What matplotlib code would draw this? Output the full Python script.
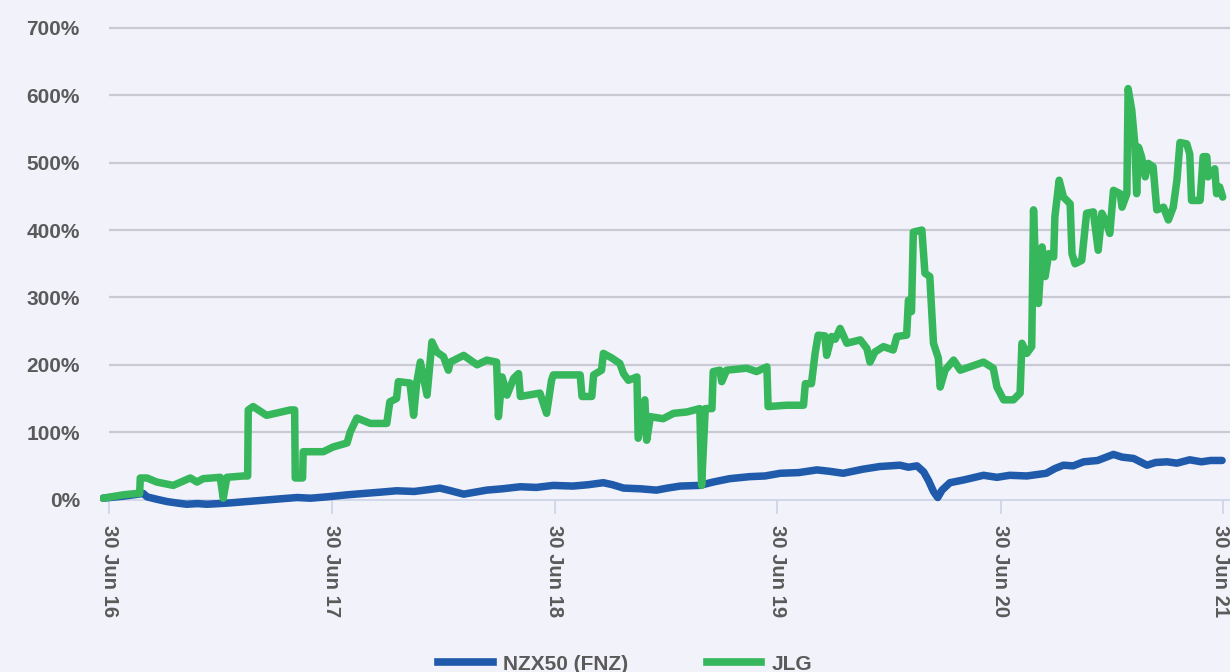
import matplotlib
matplotlib.use("Agg")
import matplotlib.pyplot as plt
import matplotlib.dates as mdates
import matplotlib.transforms as mtransforms
from matplotlib.lines import Line2D
from matplotlib.ticker import FuncFormatter
import pandas as pd

# ---------------- data ----------------
start_date = "2016-06-30"
tick_dates = ["2016-06-30", "2017-06-30", "2018-06-30", "2019-06-30", "2020-06-30", "2021-06-30"]
tick_labels = ["30 Jun 16", "30 Jun 17", "30 Jun 18", "30 Jun 19", "30 Jun 20", "30 Jun 21"]
y_ticks = [0, 100, 200, 300, 400, 500, 600, 700]
series_names = ["NZX50 (FNZ)", "JLG"]

# days since 30 Jun 2016, cumulative return in %
jlg_days = [-10, 23, 45, 50, 51, 62, 78, 105, 133, 144, 154, 182, 187, 193, 220, 227, 228, 236, 258,
            297, 304, 305, 313, 317, 318, 351, 367, 390, 395, 406, 428, 455, 460, 471, 474, 493,
            499, 504, 510, 521, 529, 537, 548, 556, 559, 581, 603, 619, 635, 638, 644, 652, 663,
            671, 674, 706, 717, 725, 728, 772, 775, 791, 794, 807, 810, 824, 837, 843, 851, 865,
            867, 878, 881, 887, 908, 925, 947, 968, 971, 977, 988, 990, 1001, 1004, 1012, 1045,
            1061, 1078, 1080, 1110, 1138, 1141, 1151, 1157, 1162, 1173, 1176, 1184, 1190, 1198,
            1209, 1231, 1242, 1247, 1255, 1269, 1285, 1291, 1307, 1310, 1315, 1318, 1332, 1337,
            1345, 1351, 1359, 1362, 1370, 1384, 1395, 1433, 1449, 1455, 1466, 1482, 1493, 1496,
            1504, 1512, 1515, 1518, 1523, 1529, 1534, 1540, 1548, 1550, 1557, 1564, 1575, 1578,
            1583, 1594, 1602, 1613, 1621, 1627, 1635, 1640, 1646, 1657, 1660, 1668, 1670, 1676,
            1681, 1684, 1687, 1692, 1698, 1703, 1711, 1717, 1728, 1736, 1744, 1750, 1755, 1766,
            1771, 1774, 1788, 1793, 1799, 1801, 1812, 1815, 1820, 1825]
jlg_vals = [2, 7, 9, 9, 32, 32, 26, 21, 32, 26, 31, 33, 2, 33, 35, 35, 133, 138, 125,
            133, 133, 32, 32, 32, 71, 71, 78, 84, 100, 121, 113, 113, 145, 150, 175, 173,
            125, 173, 204, 155, 234, 219, 212, 192, 204, 214, 200, 207, 204, 123, 182, 155, 180,
            187, 153, 158, 128, 177, 185, 185, 153, 153, 185, 192, 217, 210, 202, 187, 177, 182,
            91, 148, 88, 123, 120, 128, 130, 135, 21, 135, 135, 190, 192, 175, 192, 195,
            190, 197, 138, 140, 140, 172, 172, 217, 244, 243, 214, 242, 238, 254,
            232, 237, 224, 204, 219, 227, 222, 242, 244, 296, 279, 397, 400, 336,
            331, 232, 210, 167, 192, 207, 192, 204, 195, 167, 148, 148, 158, 232,
            217, 227, 430, 355, 291, 375, 331, 365, 360, 420, 474, 449, 439, 365,
            350, 355, 425, 427, 370, 425, 410, 395, 459, 454, 434, 454, 610, 578,
            528, 454, 523, 509, 479, 499, 494, 430, 434, 415, 434, 474, 530, 528,
            513, 444, 444, 509, 509, 479, 491, 454, 464, 449]

nzx_days = [-10, 23, 56, 62, 80, 95, 110, 127, 145, 160, 180, 198, 225, 253, 280, 308, 330, 357,
            390, 417, 445, 471, 500, 526, 542, 560, 581, 600, 619, 645, 674, 700, 728, 760, 785,
            810, 825, 843, 870, 897, 915, 936, 968, 990, 1017, 1050, 1075, 1100, 1130, 1160,
            1180, 1203, 1235, 1263, 1296, 1310, 1324, 1335, 1343, 1351, 1358, 1365, 1378, 1400,
            1433, 1455, 1476, 1504, 1520, 1536, 1550, 1564, 1580, 1597, 1620, 1646, 1660, 1679,
            1701, 1715, 1734, 1750, 1771, 1790, 1805, 1824]
nzx_vals = [2, 5, 9, 4, 0, -3, -5, -7, -6, -7, -6, -5, -3, -1, 1, 3, 2, 4,
            7, 9, 11, 13, 12, 15, 17, 13, 8, 11, 14, 16, 19, 18, 21, 20, 22,
            25, 22, 17, 16, 14, 17, 20, 21, 26, 31, 34, 35, 39, 40, 44,
            42, 39, 45, 49, 51, 48, 50, 41, 28, 12, 3, 14, 25, 29,
            36, 33, 36, 35, 37, 39, 46, 51, 50, 56, 58, 67, 63, 61,
            51, 55, 56, 54, 59, 56, 58, 58]

# ---------------- styling ----------------
BG = "#f1f2fa"
GRID = "#c9cad3"
AXIS = "#ccd3e6"
TEXT = "#5a5a5a"
BLUE = "#1f5aab"
GREEN = "#37b75c"
FONT = ["Liberation Sans", "DejaVu Sans"]

plt.rcParams["font.family"] = FONT

base = pd.Timestamp(start_date)
jlg_x = base + pd.to_timedelta(jlg_days, unit="D")
nzx_x = base + pd.to_timedelta(nzx_days, unit="D")
ticks_x = pd.to_datetime(tick_dates)
x_end = base + pd.Timedelta(days=1837)

fig = plt.figure(figsize=(12.3, 6.72), dpi=100, facecolor=BG)
ax = fig.add_axes([100 / 1230, 0.2446, 1130 / 1230, 0.9704 - 0.2446])
ax.set_facecolor(BG)

ax.set_xlim(base - pd.Timedelta(days=15), x_end)
ax.set_ylim(-12, 712)

# horizontal grid lines starting at the first tick date
for yv in y_ticks[1:]:
    ax.hlines(yv, ticks_x[0], x_end, color=GRID, lw=1.6, zorder=1)

lw = 5.4
ax.plot(nzx_x, nzx_vals, color=BLUE, lw=lw, solid_joinstyle="round", solid_capstyle="round", zorder=3)
ax.plot(jlg_x, jlg_vals, color=GREEN, lw=lw, solid_joinstyle="round", solid_capstyle="round", zorder=4)

for s in ["top", "right", "left"]:
    ax.spines[s].set_visible(False)
ax.spines["bottom"].set_position(("data", 0))
ax.spines["bottom"].set_color(AXIS)
ax.spines["bottom"].set_linewidth(1.2)
ax.spines["bottom"].set_bounds(mdates.date2num(ticks_x[0]), mdates.date2num(x_end))
ax.spines["bottom"].set_zorder(2)

ax.set_xticks(ticks_x)
ax.set_xticklabels(tick_labels, rotation=-90, ha="center", va="top",
                   fontsize=14.6, fontweight="bold", color=TEXT)
ax.tick_params(axis="x", length=10, width=1.2, color=AXIS, pad=8.5)
# keep the last label inside the canvas
last = ax.get_xticklabels()[-1]
last.set_transform(last.get_transform() + mtransforms.ScaledTranslation(-3 / 100, 0, fig.dpi_scale_trans))

ax.set_yticks(y_ticks)
ax.yaxis.set_major_formatter(FuncFormatter(lambda v, p: f"{int(v)}%"))
ax.tick_params(axis="y", length=0, pad=14.5, labelsize=15, labelcolor=TEXT)
for t in ax.get_yticklabels():
    t.set_fontweight("bold")

handles = [Line2D([0], [0], color=BLUE, lw=5.5), Line2D([0], [0], color=GREEN, lw=5.5)]
fig.legend(handles, series_names, loc="center", bbox_to_anchor=(625.5 / 1230, 1 - 664 / 672),
           ncol=2, frameon=False, handlelength=2.6, handletextpad=0.5, columnspacing=3.8,
           prop={"family": FONT, "weight": "bold", "size": 15}, labelcolor=TEXT)

fig.savefig("out.png", dpi=100, facecolor=BG)
